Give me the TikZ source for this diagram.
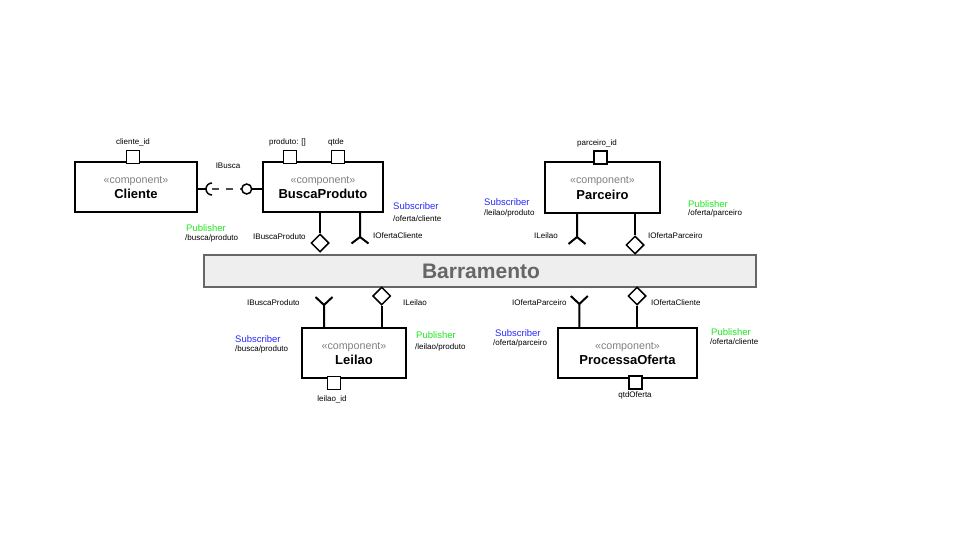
\documentclass[tikz,border=0pt]{standalone}
\usepackage{fontspec}
\setmainfont{Liberation Sans}
\usetikzlibrary{shapes.geometric}
\definecolor{subblue}{RGB}{40,40,255}
\definecolor{pubgreen}{RGB}{30,230,30}
\definecolor{stereo}{RGB}{128,128,128}
\definecolor{bargray}{RGB}{102,102,102}
\definecolor{barfill}{RGB}{238,238,238}
\begin{document}
\begin{tikzpicture}[x=1pt,y=-1pt,
  comp/.style={draw,line width=2pt,inner sep=0pt,fill=white},
  portbox/.style={draw,line width=1.6pt,fill=white,minimum size=13pt,inner sep=0pt},
  lbl/.style={font=\fontsize{8}{9}\selectfont,inner sep=0pt},
  lblw/.style={lbl,anchor=west},
  stereotxt/.style={font=\fontsize{10.7}{12}\selectfont,text=stereo,inner sep=0pt,anchor=base},
  nametxt/.style={font=\fontsize{13}{14}\selectfont\bfseries,inner sep=0pt,anchor=base},
  subtxt/.style={font=\fontsize{9.5}{11}\selectfont,text=subblue,inner sep=0pt,anchor=west},
  pubtxt/.style={font=\fontsize{9.5}{11}\selectfont,text=pubgreen,inner sep=0pt,anchor=west},
  diam/.style={diamond,draw,line width=1.5pt,fill=white,minimum width=18pt,minimum height=18pt,inner sep=0pt},
  conn/.style={line width=2pt},
  ballst/.style={circle,draw,line width=1.5pt,minimum size=10pt,inner sep=0pt,fill=white},
  dashconn/.style={line width=1.5pt,dash pattern=on 7pt off 7pt,draw=black!70}
]
\useasboundingbox (0,0) rectangle (960,540);

% bus
\node[draw=bargray,line width=1.5pt,fill=barfill,minimum width=552pt,minimum height=32pt,inner sep=0pt] (bus) at (480,271) {};
\node[font=\fontsize{21}{24}\selectfont\bfseries,text=bargray,inner sep=0pt] (bustxt) at (481,271) {Barramento};

% components
\node[comp,minimum width=122pt,minimum height=50pt] (cliente) at (136,187) {};
\node[stereotxt] (cliente-s) at (136,183) {«component»};
\node[nametxt] (cliente-n) at (136,198.5) {Cliente};

\node[comp,minimum width=120pt,minimum height=50pt] (busca) at (323,187) {};
\node[stereotxt] (busca-s) at (323,183) {«component»};
\node[nametxt] (busca-n) at (323,198.5) {BuscaProduto};

\node[comp,minimum width=115pt,minimum height=50pt] (parceiro) at (602.5,187.5) {};
\node[stereotxt] (parceiro-s) at (602.5,183.5) {«component»};
\node[nametxt] (parceiro-n) at (602.5,199) {Parceiro};

\node[comp,minimum width=104pt,minimum height=50pt] (leilao) at (354,353) {};
\node[stereotxt] (leilao-s) at (354,349) {«component»};
\node[nametxt] (leilao-n) at (354,364.5) {Leilao};

\node[comp,minimum width=139pt,minimum height=50pt] (processa) at (627.5,353) {};
\node[stereotxt] (processa-s) at (627.5,349) {«component»};
\node[nametxt] (processa-n) at (627.5,364.5) {ProcessaOferta};

% ports
\node[portbox] (p-cid) at (133,157) {};
\node[lbl] (l-cid) at (133,142) {cliente\_id};
\node[portbox] (p-prod) at (290,157) {};
\node[lbl] (l-prod) at (287.5,142) {produto: []};
\node[portbox] (p-qtde) at (338,157) {};
\node[lbl] (l-qtde) at (336,142) {qtde};
\node[portbox] (p-pid) at (600.5,157.5) {};
\node[lbl] (l-pid) at (597,143) {parceiro\_id};
\node[portbox] (p-lid) at (334,383) {};
\node[lbl] (l-lid) at (332,399) {leilao\_id};
\node[portbox] (p-qo) at (635.5,382.5) {};
\node[lbl] (l-qo) at (635,395) {qtdOferta};

% IBusca lollipop / socket
\node[ballst] (ball) at (246.7,189) {};
\coordinate (sockc) at (212,189);
\draw[conn] (ball.east) -- (busca.west |- ball);
\draw[conn] (cliente.east |- sockc) -- ([xshift=-6pt]sockc);
\draw[line width=1.5pt] (sockc) ++(0,-6) arc[start angle=-90,end angle=-270,radius=6];
\draw[dashconn] (sockc) -- (ball.west);
\node[lbl] (l-ibusca) at (228,166) {IBusca};

% BuscaProduto interfaces
\node[diam] (d-bp) at (320,243) {};
\draw[conn] (busca.south -| d-bp) -- (d-bp.north);
\coordinate (f-bp) at (360,237);
\draw[conn] (busca.south -| f-bp) -- (f-bp) -- ++(-8.5,6.5);
\draw[conn] (f-bp) -- ++(8.5,6.5);
\node[lblw] (l-ibp1) at (253,237) {IBuscaProduto};
\node[lblw] (l-ioc1) at (373,236) {IOfertaCliente};
\node[pubtxt] (pub1) at (186,228) {Publisher};
\node[lblw] (t-pub1) at (185,238) {/busca/produto};
\node[subtxt] (sub1) at (393,206) {Subscriber};
\node[lblw] (t-sub1) at (393,219) {/oferta/cliente};

% Parceiro interfaces
\node[diam] (d-pa) at (635,245) {};
\draw[conn] (parceiro.south -| d-pa) -- (d-pa.north);
\coordinate (f-pa) at (577,237);
\draw[conn] (parceiro.south -| f-pa) -- (f-pa) -- ++(-8.5,7);
\draw[conn] (f-pa) -- ++(8.5,7);
\node[lblw] (l-il1) at (534,236) {ILeilao};
\node[lblw] (l-iop1) at (648,236) {IOfertaParceiro};
\node[subtxt] (sub2) at (484,202) {Subscriber};
\node[lblw] (t-sub2) at (484,213) {/leilao/produto};
\node[pubtxt] (pub2) at (688,204) {Publisher};
\node[lblw] (t-pub2) at (688,213) {/oferta/parceiro};

% Leilao interfaces
\node[diam] (d-le) at (381.7,296) {};
\draw[conn] (leilao.north -| d-le) -- (d-le.south);
\coordinate (f-le) at (324,305);
\draw[conn] (leilao.north -| f-le) -- (f-le) -- ++(-8.5,-8);
\draw[conn] (f-le) -- ++(8.5,-8);
\node[lblw] (l-ibp2) at (247,303) {IBuscaProduto};
\node[lblw] (l-il2) at (403,303) {ILeilao};
\node[subtxt] (sub3) at (235,339) {Subscriber};
\node[lblw] (t-sub3) at (235,349) {/busca/produto};
\node[pubtxt] (pub3) at (416,335) {Publisher};
\node[lblw] (t-pub3) at (415,347) {/leilao/produto};

% ProcessaOferta interfaces
\node[diam] (d-po) at (637,296) {};
\draw[conn] (processa.north -| d-po) -- (d-po.south);
\coordinate (f-po) at (579.3,304);
\draw[conn] (processa.north -| f-po) -- (f-po) -- ++(-8.5,-8);
\draw[conn] (f-po) -- ++(8.5,-8);
\node[lblw] (l-iop2) at (512,303) {IOfertaParceiro};
\node[lblw] (l-ioc2) at (651,303) {IOfertaCliente};
\node[subtxt] (sub4) at (495,333) {Subscriber};
\node[lblw] (t-sub4) at (493,343) {/oferta/parceiro};
\node[pubtxt] (pub4) at (711,332) {Publisher};
\node[lblw] (t-pub4) at (710,342) {/oferta/cliente};
\end{tikzpicture}
\end{document}
